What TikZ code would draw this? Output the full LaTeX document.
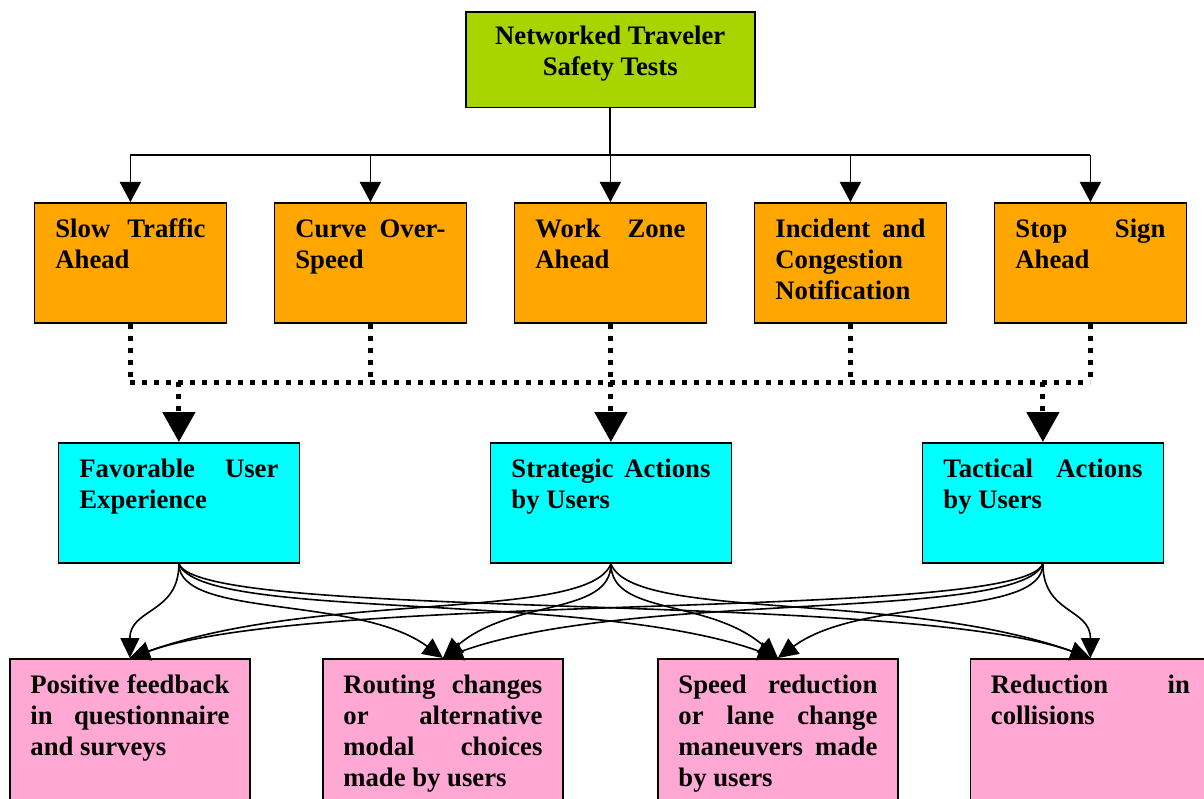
\documentclass[tikz,border=0pt]{standalone}
\usepackage{fontspec}
\setmainfont{Liberation Serif}
\usetikzlibrary{arrows.meta}
\definecolor{ntLime}{RGB}{168,212,0}
\definecolor{ntOrange}{RGB}{255,167,0}
\definecolor{ntCyan}{RGB}{0,255,255}
\definecolor{ntPink}{RGB}{255,168,212}
\tolerance=10000 \hbadness=10000 \hyphenpenalty=10000 \exhyphenpenalty=10000
\newcommand\bxt[3]{\parbox[c][#2][t]{#1}{\rule{0pt}{35pt}#3}}
\begin{document}
\begin{tikzpicture}[x=1pt,y=1pt,
  base/.style={draw=black,line width=1.8pt,inner sep=0pt,anchor=north west,font=\fontsize{26.7}{31}\selectfont\bfseries},
  topbox/.style={base,fill=ntLime,minimum width=288.7pt,minimum height=95.7pt},
  obox/.style={base,fill=ntOrange,minimum width=192pt,minimum height=120pt},
  cbox/.style={base,fill=ntCyan,minimum width=241pt,minimum height=120pt},
  pbox/.style={base,fill=ntPink,minimum width=240pt,minimum height=160pt},
  conn/.style={line width=1.7pt},
  conna/.style={conn,-{Triangle[width=21pt,length=20pt]}},
  dots/.style={line width=5pt,dash pattern=on 5pt off 7pt},
  dotsa/.style={dots,-{Triangle[width=32pt,length=30pt]}},
  crv/.style={line width=1.6pt,-{Triangle[width=19pt,length=20pt]}}]

\clip (0,0) rectangle (1204,-799);
\fill[white] (0,0) rectangle (1204,-799);

\node[topbox] (top) at (465,-11) {\parbox[c][95.7pt][t]{280pt}{\centering\rule{0pt}{33pt}Networked Traveler\\Safety Tests}};

\node[obox] (o1) at (33.5,-202) {\bxt{150pt}{120pt}{Slow Traffic\linebreak Ahead}};
\node[obox] (o2) at (273.5,-202) {\bxt{150pt}{120pt}{Curve Over-\linebreak Speed}};
\node[obox] (o3) at (513.5,-202) {\bxt{150pt}{120pt}{Work Zone\linebreak Ahead}};
\node[obox] (o4) at (753.5,-202) {\bxt{150pt}{120pt}{Incident and\linebreak Congestion\newline Notification}};
\node[obox] (o5) at (993.5,-202) {\bxt{150pt}{120pt}{Stop Sign\linebreak Ahead}};

\node[cbox] (a) at (57.5,-442) {\bxt{199pt}{120pt}{Favorable User\linebreak Experience}};
\node[cbox] (b) at (489.5,-442) {\bxt{199pt}{120pt}{Strategic Actions\linebreak by Users}};
\node[cbox] (c) at (921.5,-442) {\bxt{199pt}{120pt}{Tactical Actions\linebreak by Users}};

\node[pbox] (p1) at (9,-658) {\bxt{199pt}{160pt}{Positive feedback\linebreak in questionnaire\linebreak and surveys}};
\node[pbox] (p2) at (322,-658) {\bxt{199pt}{160pt}{Routing changes\linebreak or alternative\linebreak modal choices\linebreak made by users}};
\node[pbox] (p3) at (657,-658) {\bxt{199pt}{160pt}{Speed reduction\linebreak or lane change\linebreak maneuvers made\linebreak by users}};
\node[pbox] (p4) at (969.5,-658) {\bxt{199pt}{160pt}{Reduction in\linebreak collisions}};

\coordinate (hl) at (0,-155);
\coordinate (dl) at (0,-382);

\draw[conn] (top.south) -- (top.south |- hl);
\draw[conn] (o1.north |- hl) -- (o5.north |- hl);
\foreach \i in {1,...,5} \draw[conna] (o\i.north |- hl) -- (o\i.north);

\foreach \i in {1,...,5} \draw[dots] (o\i.south) -- (o\i.south |- dl);
\draw[dots] (o1.south |- dl) -- (o5.south |- dl);
\foreach \n in {a,b,c} \draw[dotsa] (\n.north |- dl) -- (\n.north);

\draw[crv] (a.south) .. controls +(0,-50) and +(0,50) .. (p1.north);
\draw[crv] (a.south) .. controls +(0,-55) and +(-85,63) .. (p2.north);
\draw[crv] (a.south) .. controls +(22,-58) and +(-188,68) .. (p3.north);
\draw[crv] (a.south) .. controls +(22,-58) and +(-188,68) .. (p4.north);

\draw[crv] (b.south) .. controls +(-22,-58) and +(188,68) .. (p1.north);
\draw[crv] (b.south) .. controls +(0,-52) and +(70,60) .. (p2.north);
\draw[crv] (b.south) .. controls +(0,-52) and +(-70,60) .. (p3.north);
\draw[crv] (b.south) .. controls +(22,-58) and +(-188,68) .. (p4.north);

\draw[crv] (c.south) .. controls +(-22,-58) and +(188,68) .. (p1.north);
\draw[crv] (c.south) .. controls +(-22,-58) and +(188,68) .. (p2.north);
\draw[crv] (c.south) .. controls +(0,-55) and +(85,63) .. (p3.north);
\draw[crv] (c.south) .. controls +(0,-50) and +(0,50) .. (p4.north);
\end{tikzpicture}
\end{document}
